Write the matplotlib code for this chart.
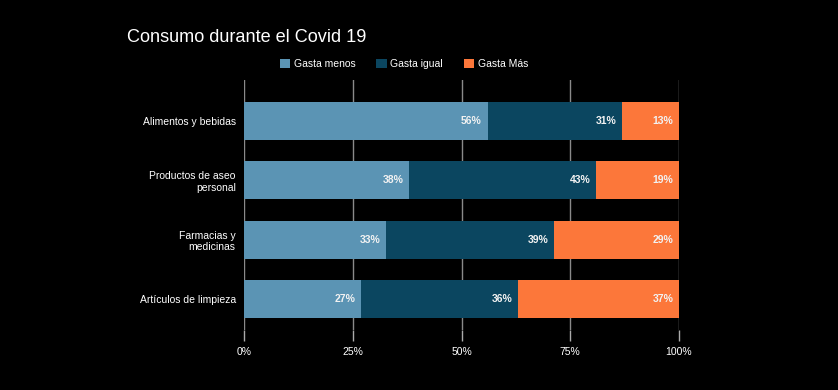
import numpy as np
import matplotlib
matplotlib.use("Agg")
import matplotlib.pyplot as plt
from matplotlib.patches import Patch

plt.rcParams["font.family"] = ["Liberation Sans", "DejaVu Sans"]

# -----------------------------
# Datos
# -----------------------------
categorias = ["Alimentos y bebidas", "Productos de aseo\npersonal",
              "Farmacias y\nmedicinas", "Artículos de limpieza"]
series = ["Gasta menos", "Gasta igual", "Gasta Más"]
gasta_menos = [56, 38, 33, 27]
gasta_igual = [31, 43, 39, 36]
gasta_mas = [13, 19, 29, 37]
colores = ["#5b94b4", "#0b4660", "#fc773a"]

valores = np.array([gasta_menos, gasta_igual, gasta_mas], dtype=float)
totales = valores.sum(axis=0)
norm = valores / totales * 100

# -----------------------------
# Gráfico
# -----------------------------
fig = plt.figure(figsize=(8.38, 3.9), dpi=100, facecolor="black")
ax = fig.add_axes([244 / 838, 1 - 330 / 390, 435 / 838, 250 / 390])
ax.set_facecolor("black")

y = np.arange(len(categorias))
izq = np.zeros(len(categorias))
for i, nombre in enumerate(series):
    ax.barh(y, norm[i], left=izq, height=0.64, color=colores[i],
            label=nombre, zorder=2)
    for j in range(len(categorias)):
        fin = izq[j] + norm[i][j]
        ax.text(fin - 1.3, y[j], f"{int(valores[i][j])}%", ha="right",
                va="center", color="#f2f2f2", fontsize=7.5, fontweight="bold",
                zorder=3)
    izq += norm[i]

ax.set_xlim(0, 100)
ax.set_ylim(3.52, -0.69)
ax.set_xticks([0, 25, 50, 75, 100])
ax.set_xticklabels(["0%", "25%", "50%", "75%", "100%"])
ax.set_yticks(y)
ax.set_yticklabels(categorias)
ax.tick_params(axis="x", colors="#aaaaaa", labelcolor="white", labelsize=7.5,
               length=8, width=1, pad=4)
ax.tick_params(axis="y", length=0, labelcolor="white", labelsize=7.5, pad=6)
ax.grid(axis="x", color="#8a8a8a", linewidth=1, zorder=0)
for s in ax.spines.values():
    s.set_visible(False)

fig.text(127 / 838, 1 - 37 / 390, "Consumo durante el Covid 19", color="white",
         fontsize=13.1, va="center", ha="left")

handles = [Patch(facecolor=c, edgecolor="none") for c in colores]
fig.legend(handles, series, loc="center", bbox_to_anchor=(404 / 838, 1 - 64 / 390),
           ncol=3, frameon=False, fontsize=7.5, labelcolor="white",
           handlelength=1.0, handleheight=1.0, handletextpad=0.35,
           columnspacing=2.0)

fig.savefig("out.png", facecolor="black")
